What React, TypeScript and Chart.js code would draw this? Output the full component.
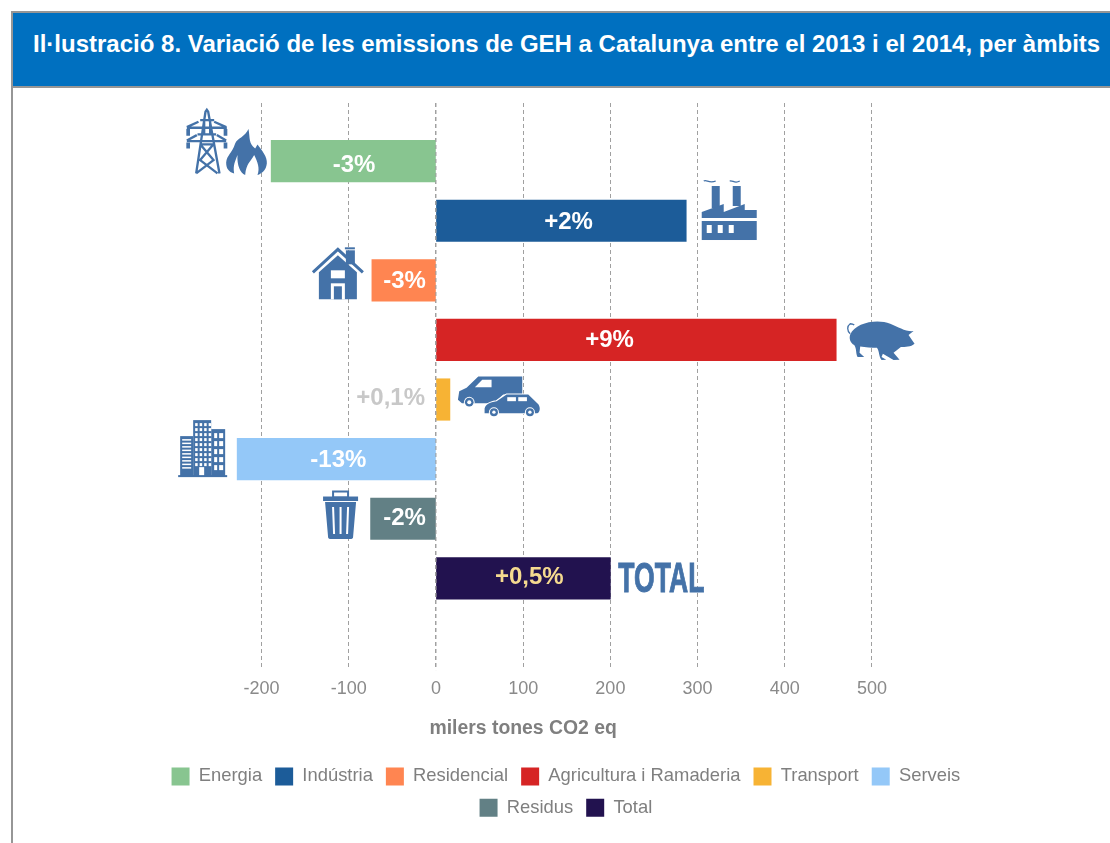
import React, { useEffect, useRef } from "react";
import { Chart, registerables } from "chart.js";

Chart.register(...registerables);

const TITLE = "Il·lustració 8. Variació de les emissions de GEH a Catalunya entre el 2013 i el 2014, per àmbits";
const AXIS_TITLE = "milers tones CO2 eq";
const categories = ["Energia", "Indústria", "Residencial", "Agricultura i Ramaderia", "Transport", "Serveis", "Residus", "Total"];
const values = [-189, 287, -73.5, 459, 16, -228, -75, 200];
const changeLabels = ["-3%", "+2%", "-3%", "+9%", "+0,1%", "-13%", "-2%", "+0,5%"];
const colors = ["#88C590", "#1C5C99", "#FF8551", "#D62424", "#F7B334", "#94C8F8", "#628085", "#22124F"];
const tickValues = [-200, -100, 0, 100, 200, 300, 400, 500];

const FONT = "'Liberation Sans', Arial, sans-serif";
const ICON = "#4472A8";
const labelAt = [-94, 152, -36, 199, -52, -112, -36, 107];
const labelNudge = [4.5, 1.5, 1.5, 0.5, -1.5, 1.5, -0.5, -0.5];
const labelColors = ["#fff", "#fff", "#fff", "#fff", "#C8C8C8", "#fff", "#fff", "#F5DA8F"];

type Ctx = CanvasRenderingContext2D;

const rects = (c: Ctx, list: number[][]) => list.forEach((r) => c.fillRect(r[0], r[1], r[2], r[3]));
const fillP = (c: Ctx, d: string) => c.fill(new Path2D(d));
const strokeP = (c: Ctx, d: string) => c.stroke(new Path2D(d));

function tower(c: Ctx) {
  c.save();
  c.translate(-5, -4);
  c.scale(1 / 3, 1 / 3);
  c.lineWidth = 7;
  strokeP(c, "M48 205 L76 20 L80 14 L84 20 L118 205 M60 45 L102 45 M20 68 L140 68 M52 88 L108 88 M20 108 L138 108 M58 118 L100 118 M62 120 L100 165 L48 205 M98 120 L60 165 L112 205 M55 50 L20 66 M102 50 L138 66 M50 90 L20 106 M110 90 L138 106 M72 45 L72 88 M90 45 L90 88");
  c.lineWidth = 11;
  strokeP(c, "M24 72 L24 92 M136 72 L136 92 M24 112 L24 130 M136 112 L136 130");
  fillP(c, "M138 172 C140 150 155 145 165 115 C172 100 195 95 205 72 C210 100 205 115 225 130 L232 118 C245 135 262 155 260 175 C258 195 245 205 232 210 C240 190 232 170 222 150 C212 170 198 175 195 210 C180 205 170 180 172 150 C165 170 158 180 162 205 C145 200 138 190 138 172Z");
  c.restore();
}

function factory(c: Ctx) {
  rects(c, [[10, 6, 8, 22], [31, 6, 8, 20]]);
  fillP(c, "M0 32 L22 24 L22 32 L43 24 L43 30 L55 30 L55 38 L0 38Z");
  c.fillRect(0, 41, 55, 19);
  c.fillStyle = "#fff";
  rects(c, [[5, 45, 5, 8], [16, 45, 5, 8], [27, 45, 5, 8]]);
  c.lineWidth = 1.3;
  strokeP(c, "M2 1 C5 -1 7 4 14 1 M28 1 C31 0 33 4 38 1");
}

function house(c: Ctx) {
  rects(c, [[34, 3, 9, 14], [33, 0, 10, 2]]);
  c.lineWidth = 3;
  strokeP(c, "M1 25 L26 2 L51 25");
  fillP(c, "M7 25 L26 8 L45 25 L45 52 L7 52Z");
  c.fillStyle = "#fff";
  rects(c, [[19, 23, 14, 8], [19, 36, 14, 16]]);
  c.fillStyle = ICON;
  c.fillRect(22, 39, 8, 13);
}

function pig(c: Ctx) {
  c.scale(1 / 3, 1 / 3);
  fillP(c, "M30 60 C45 25 110 12 150 28 C175 38 195 52 220 50 L205 62 L223 88 C212 98 195 97 182 98 L160 115 L178 136 L160 137 L128 118 L124 128 L138 136 L124 137 C115 125 118 110 110 100 C95 100 75 98 60 96 L58 115 L72 128 L52 128 C46 115 50 105 42 92 C30 85 26 72 30 60Z");
  c.lineWidth = 4;
  strokeP(c, "M30 58 C20 50 20 35 30 28 C36 28 40 30 42 32");
}

function vehicles(c: Ctx) {
  c.scale(1 / 3, 1 / 3);
  fillP(c, "M24 88 L28 62 L50 52 L85 18 L217 18 L217 72 L160 72 L130 98 L36 98Z");
  c.fillStyle = "#fff";
  fillP(c, "M75 50 L97 28 L125 28 L125 50Z");
  c.beginPath(); c.arc(58, 95, 16, 0, 7); c.fill();
  c.fillStyle = ICON;
  c.beginPath(); c.arc(58, 95, 13, 0, 7); c.fill();
  c.fillStyle = "#fff";
  c.beginPath(); c.arc(58, 95, 6, 0, 7); c.fill();
  c.lineWidth = 6;
  c.strokeStyle = "#fff";
  const car = "M104 120 C102 102 120 95 140 92 L170 72 L235 72 L262 98 C272 105 272 125 262 128 L104 128Z";
  strokeP(c, car);
  c.fillStyle = ICON;
  fillP(c, car);
  c.fillStyle = "#fff";
  rects(c, [[172, 80, 26, 12], [205, 80, 26, 12]]);
  [132, 240].forEach((x) => {
    c.fillStyle = "#fff";
    c.beginPath(); c.arc(x, 125, 15, 0, 7); c.fill();
    c.fillStyle = ICON;
    c.beginPath(); c.arc(x, 125, 12, 0, 7); c.fill();
    c.fillStyle = "#fff";
    c.beginPath(); c.arc(x, 125, 5, 0, 7); c.fill();
  });
}

function building(c: Ctx) {
  rects(c, [[15, 1, 18, 56], [2, 17, 13, 40], [33, 10, 14, 47], [0, 56, 49, 2]]);
  c.fillStyle = "#fff";
  for (let y = 4; y < 47; y += 5) for (let x = 17; x < 31; x += 4.5) c.fillRect(x, y, 2.5, 3);
  for (let y = 14; y < 50; y += 8) rects(c, [[36, y, 3, 5], [41, y, 4, 5]]);
  for (let y = 20; y < 50; y += 3.5) c.fillRect(4, y, 9, 1.5);
  c.fillRect(21, 48, 5, 8);
}

function bin(c: Ctx) {
  c.lineWidth = 2;
  c.strokeRect(10, 1.5, 15, 6);
  rects(c, [[0, 6.5, 35, 4.5]]);
  fillP(c, "M2 12 L33 12 L30 47 Q30 49 27 49 L8 49 Q5 49 5 47Z");
  c.strokeStyle = "#fff";
  strokeP(c, "M10 17 L11 44 M17.5 17 L17.5 44 M25 17 L24 44");
}

const icons: { draw: (c: Ctx) => void; dx: number; dy: number }[] = [
  { draw: tower, dx: -86, dy: -52 },
  { draw: factory, dx: 15.5, dy: -40.7 },
  { draw: house, dx: -60, dy: -33 },
  { draw: pig, dx: 4, dy: -25.5 },
  { draw: vehicles, dx: 0, dy: -29 },
  { draw: building, dx: -59, dy: -40 },
  { draw: bin, dx: -47.5, dy: -28.7 },
];

const decorations = {
  id: "decorations",
  afterDatasetsDraw(chart: any) {
    const c: Ctx = chart.ctx;
    const { x: sx, y: sy } = chart.scales;
    // zero line runs over the bars
    const zero = sx.getPixelForValue(0);
    c.save();
    c.strokeStyle = "#A0A0A0";
    c.setLineDash([4, 3]);
    c.beginPath();
    c.moveTo(zero, sy.top);
    c.lineTo(zero, sy.bottom);
    c.stroke();
    c.restore();

    icons.forEach((ic, i) => {
      c.save();
      c.translate(sx.getPixelForValue(values[i]) + ic.dx, sy.getPixelForValue(i) + ic.dy);
      c.fillStyle = ICON;
      c.strokeStyle = ICON;
      ic.draw(c);
      c.restore();
    });

    c.save();
    c.textAlign = "center";
    c.textBaseline = "middle";
    c.font = `bold 24px ${FONT}`;
    changeLabels.forEach((t, i) => {
      c.fillStyle = labelColors[i];
      c.fillText(t, sx.getPixelForValue(labelAt[i]), sy.getPixelForValue(i) + labelNudge[i]);
    });
    c.fillStyle = "#7F7F7F";
    c.font = `bold 19.4px ${FONT}`;
    c.fillText(AXIS_TITLE, sx.getPixelForValue(100), sy.bottom + 59);
    c.textAlign = "left";
    c.textBaseline = "alphabetic";
    c.fillStyle = ICON;
    c.strokeStyle = ICON;
    c.lineWidth = 1;
    c.font = `bold 42px ${FONT}`;
    const tx = sx.getPixelForValue(values[7]) + 8;
    const ty = sy.getPixelForValue(7) + 14;
    c.fillText("TOTAL", tx, ty, 86);
    c.strokeText("TOTAL", tx, ty, 86);
    c.restore();
  },
};

export default function App() {
  const ref = useRef<HTMLCanvasElement>(null);
  useEffect(() => {
    const chart = new Chart(ref.current as HTMLCanvasElement, {
      type: "bar",
      data: {
        datasets: categories.map((label, i) => ({
          label,
          data: [{ x: values[i], y: i }],
          backgroundColor: colors[i],
          barThickness: 41.5,
          grouped: false,
        })),
      } as any,
      options: {
        indexAxis: "y",
        responsive: false,
        animation: false,
        layout: { padding: { top: 15, left: 29.9, right: 30.1, bottom: 16 } },
        font: { family: FONT },
        scales: {
          x: {
            type: "linear",
            min: -351,
            max: 649,
            afterBuildTicks: (axis: any) => {
              axis.ticks = tickValues.map((value) => ({ value }));
            },
            afterFit: (axis: any) => {
              axis.height += 46.5;
            },
            grid: { color: "#A0A0A0", tickLength: 0, drawTicks: false },
            border: { display: false, dash: [4, 3] },
            ticks: {
              color: "#8A8A8A",
              font: { family: FONT, size: 18 },
              padding: 8,
              maxRotation: 0,
              autoSkip: false,
            },
          },
          y: { type: "linear", display: false, reverse: true, offset: false, min: -0.975, max: 8.54 },
        },
        plugins: {
          title: { display: false },
          tooltip: { enabled: false },
          legend: {
            display: true,
            position: "bottom",
            labels: {
              boxWidth: 18,
              boxHeight: 18,
              padding: 13,
              color: "#7F7F7F",
              font: { family: FONT, size: 18.4 },
            },
          },
        },
      } as any,
      plugins: [decorations],
    });
    return () => chart.destroy();
  }, []);

  return (
    <div style={{ position: "absolute", left: 0, top: 0, width: 1110, height: 843, overflow: "hidden", background: "#fff" }}>
      <div style={{ position: "absolute", left: 11, top: 11, width: 2, height: 832, background: "#969696" }} />
      <div style={{ position: "absolute", left: 11, top: 11, width: 1099, height: 2, background: "#969696" }} />
      <div style={{ position: "absolute", left: 13, top: 86, width: 1097, height: 2, background: "#969696" }} />
      <div
        style={{
          position: "absolute",
          left: 13,
          top: 13,
          width: 1097,
          height: 73,
          background: "#0070C0",
          color: "#fff",
          font: `bold 24px ${FONT}`,
          lineHeight: "61px",
          paddingLeft: 20,
          boxSizing: "border-box",
          whiteSpace: "nowrap",
        }}
      >
        {TITLE}
      </div>
      <canvas ref={ref} width={932} height={755} style={{ position: "absolute", left: 100, top: 88, display: "block" }} />
    </div>
  );
}
